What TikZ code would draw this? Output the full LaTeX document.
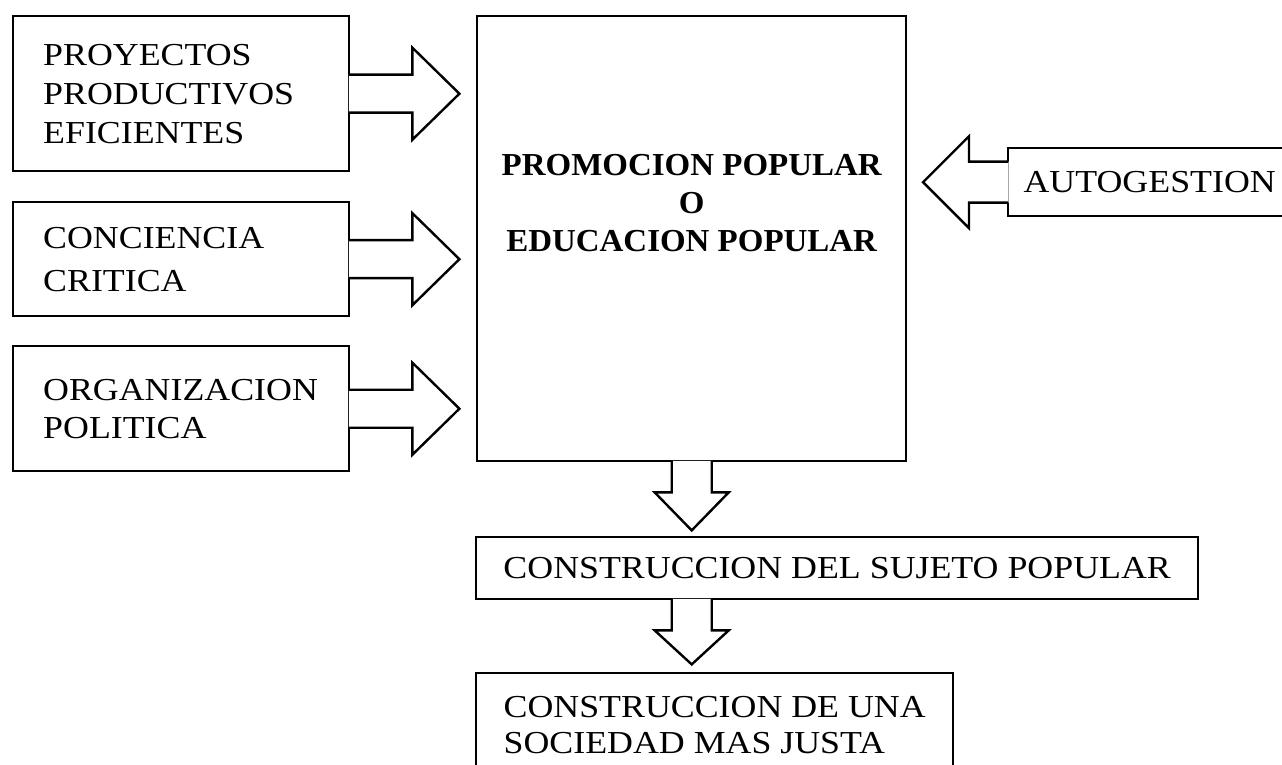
\documentclass[tikz,border=0pt]{standalone}
\usepackage{fontspec}
\setmainfont{Liberation Serif}[FakeStretch=1.12, BoldFeatures={FakeStretch=1.03}]
\usetikzlibrary{positioning}

\begin{document}
\begin{tikzpicture}[x=0.5pt, y=-0.5pt]

% --- Define reusable styles ---
\tikzset{
    box/.style={draw, line width=1.2pt, inner sep=0pt, anchor=north west,
        font=\fontsize{16}{18}\selectfont},
    listbox/.style={box, text width=138pt, inner xsep=15pt, align=left,
        minimum width=168pt},
    arrowline/.style={line width=1.2pt, line join=miter}
}

% Page frame (the scan is cut at the right and bottom)
\useasboundingbox (0,0) rectangle (1282,765);
\clip (0,0) rectangle (1282,765);

% 1. The three input boxes on the left
\node[listbox, minimum height=77.5pt, font=\fontsize{16}{19.5}\selectfont] (proyectos_box) at (12,15) {PROYECTOS\\PRODUCTIVOS\\EFICIENTES};
\node[listbox, minimum height=57pt, font=\fontsize{16}{21.5}\selectfont, below=14.3pt of proyectos_box] (conciencia_box) {CONCIENCIA\\CRITICA};
\node[listbox, minimum height=62.5pt, font=\fontsize{16}{19}\selectfont, below=13.8pt of conciencia_box] (organizacion_box) {ORGANIZACION\\POLITICA};

% 2. The central box
\node[box, minimum width=214.5pt, minimum height=222.5pt] (main_box) at (476,15) {};
\node[font=\fontsize{16}{19}\selectfont\bfseries, align=center] (main_text) at ([yshift=18pt]main_box.center) {PROMOCION POPULAR\\O\\EDUCACION POPULAR};

% 3. The box on the right
\node[box, minimum width=141.5pt, minimum height=34pt] (autogestion_box) at (1007,147) {AUTOGESTION};

% 4. The two result boxes below
\node[box, minimum width=361pt, minimum height=31pt] (sujeto_box) at (475,536) {CONSTRUCCION DEL SUJETO POPULAR};
\node[box, minimum width=238.5pt, minimum height=52pt, align=left, font=\fontsize{16}{18}\selectfont] (sociedad_box) at (475,672) {CONSTRUCCION DE UNA\\SOCIEDAD MAS JUSTA};

% 5. Block arrows into the central box (white fill opens the box edge)
\fill[white, shift={(proyectos_box.east)}] (-1.5,-19) -- (62,-19) -- (62,-46) -- (109,0) -- (62,46) -- (62,19) -- (-1.5,19) -- cycle;
\draw[arrowline, shift={(proyectos_box.east)}] (-1.2,-19) -- (62,-19) -- (62,-46) -- (109,0) -- (62,46) -- (62,19) -- (-1.2,19);

\fill[white, shift={(conciencia_box.east)}] (-1.5,-19) -- (62,-19) -- (62,-46) -- (109,0) -- (62,46) -- (62,19) -- (-1.5,19) -- cycle;
\draw[arrowline, shift={(conciencia_box.east)}] (-1.2,-19) -- (62,-19) -- (62,-46) -- (109,0) -- (62,46) -- (62,19) -- (-1.2,19);

\fill[white, shift={(organizacion_box.east)}] (-1.5,-19) -- (62,-19) -- (62,-46) -- (109,0) -- (62,46) -- (62,19) -- (-1.5,19) -- cycle;
\draw[arrowline, shift={(organizacion_box.east)}] (-1.2,-19) -- (62,-19) -- (62,-46) -- (109,0) -- (62,46) -- (62,19) -- (-1.2,19);

\fill[white, shift={(autogestion_box.west)}] (1.5,-20.5) -- (-38,-20.5) -- (-38,-46) -- (-84,0) -- (-38,46) -- (-38,20.5) -- (1.5,20.5) -- cycle;
\draw[arrowline, shift={(autogestion_box.west)}] (1.2,-20.5) -- (-38,-20.5) -- (-38,-46) -- (-84,0) -- (-38,46) -- (-38,20.5) -- (1.2,20.5);

% 6. Block arrows down the chain
\fill[white, shift={(main_box.south)}] (-20,-1.5) -- (-20,30) -- (-37,30) -- (0,68) -- (37,30) -- (20,30) -- (20,-1.5) -- cycle;
\draw[arrowline, shift={(main_box.south)}] (-20,-1.2) -- (-20,30) -- (-37,30) -- (0,68) -- (37,30) -- (20,30) -- (20,-1.2);

\fill[white, shift={(main_box.south |- sujeto_box.south)}] (-20,-1.5) -- (-20,30) -- (-37,30) -- (0,64) -- (37,30) -- (20,30) -- (20,-1.5) -- cycle;
\draw[arrowline, shift={(main_box.south |- sujeto_box.south)}] (-20,-1.2) -- (-20,30) -- (-37,30) -- (0,64) -- (37,30) -- (20,30) -- (20,-1.2);

\end{tikzpicture}
\end{document}
